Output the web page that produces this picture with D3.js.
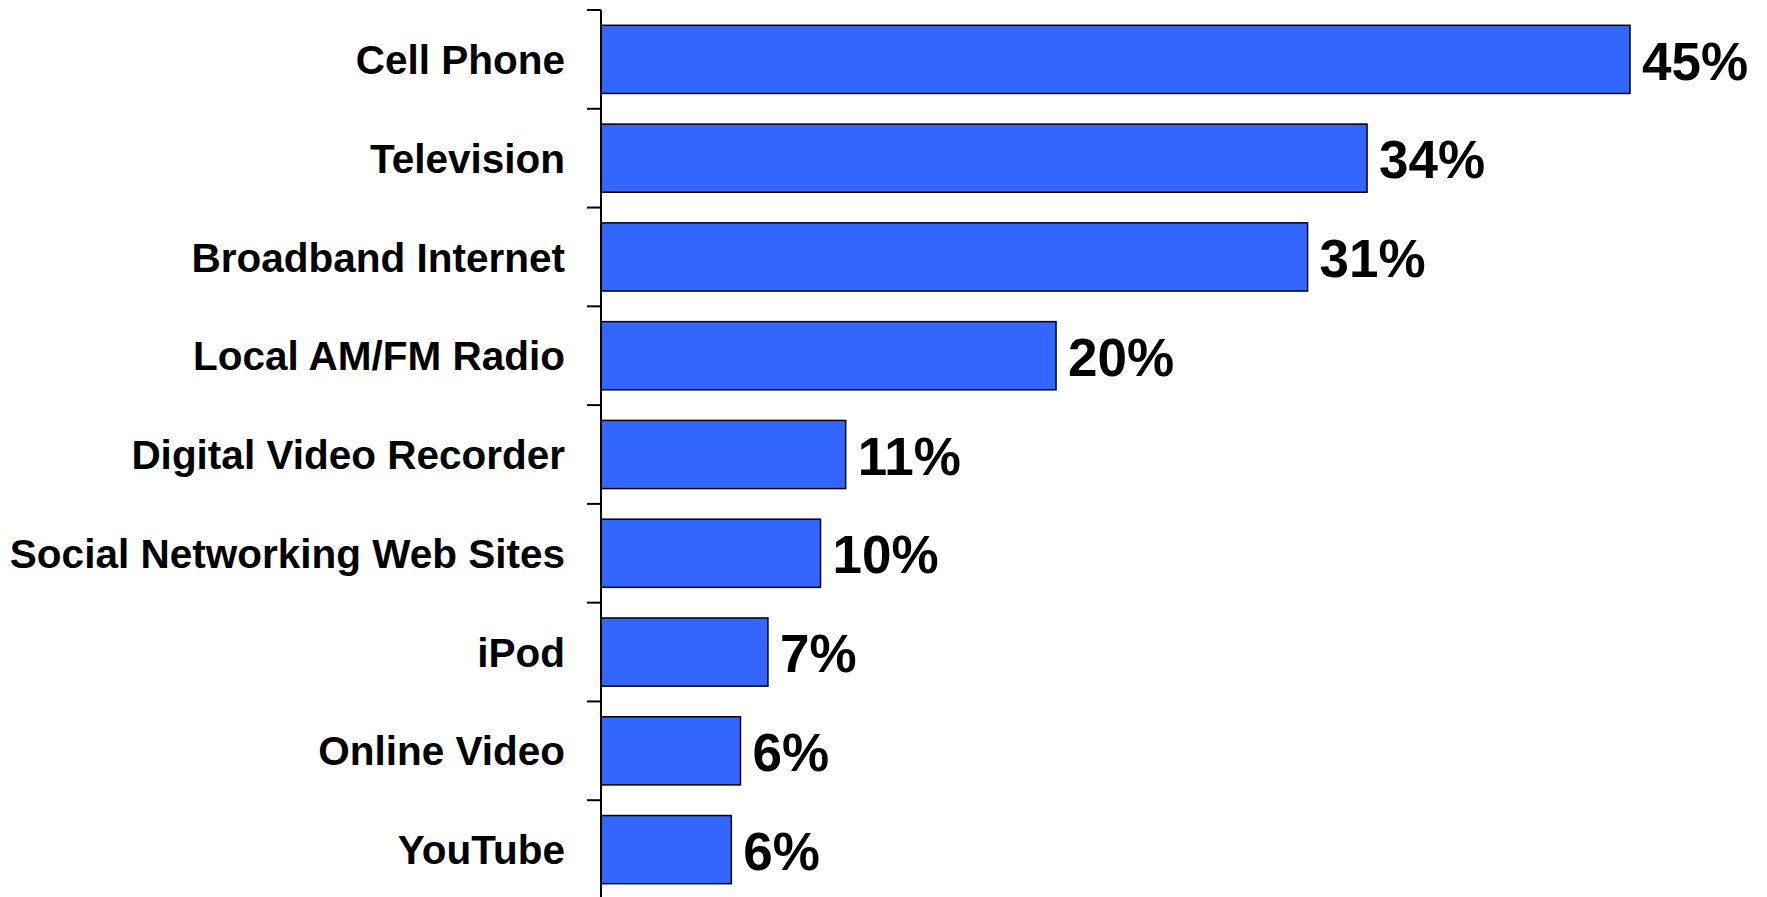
<!DOCTYPE html>
<html>
<head>
<meta charset="utf-8">
<script src="https://cdn.jsdelivr.net/npm/d3@7"></script>
<style>
    body { margin: 0; background: #fff; }
    .cat { font-family: "Liberation Sans", Arial, sans-serif; font-weight: bold; font-size: 40.5px; fill: #000; }
    .val { font-family: "Liberation Sans", Arial, sans-serif; font-weight: bold; font-size: 53px; fill: #000; }
</style>
</head>
<body>
<div class="barchart"></div>
<script>
// categories and values
const categories = ["Cell Phone", "Television", "Broadband Internet", "Local AM/FM Radio",
    "Digital Video Recorder", "Social Networking Web Sites", "iPod", "Online Video", "YouTube"];
const values = [45, 33.5, 30.9, 19.9, 10.7, 9.6, 7.3, 6.1, 5.7];
const labels = ["45%", "34%", "31%", "20%", "11%", "10%", "7%", "6%", "6%"];

const data = categories.map((c, i) => ({ name: c, value: values[i], label: labels[i] }));

BarChart(".barchart");

function BarChart(container) {

    const margin = ({top: 10, right: 137, bottom: 0, left: 601})

    const width = 1767 - margin.left - margin.right,
    height = 889;

    const svg = d3.select(container)
        .append("svg")
        .attr("width", 1767)
        .attr("height", 897)
        .append("g")
        .attr("transform", "translate(" + margin.left + "," + margin.top + ")");

    // scales
    const xScale = d3.scaleLinear()
        .domain([0, 45])
        .range([0, width])

    const yScale = d3.scaleBand()
        .domain(categories)
        .range([0, height])
        .padding(0)

    const step = yScale.step();
    const barPad = step * 0.155;
    const barH = step * 0.69;

    // bars
    svg.selectAll("rect.bar")
        .data(data)
        .enter()
        .append("rect")
        .attr("class", "bar")
        .attr("x", 0)
        .attr("y", d => yScale(d.name) + barPad)
        .attr("width", d => xScale(d.value))
        .attr("height", barH)
        .attr("fill", "#3366ff")
        .attr("stroke", "#000")
        .attr("stroke-width", 1.5);

    // value labels
    svg.selectAll("text.val")
        .data(data)
        .enter()
        .append("text")
        .attr("class", "val")
        .attr("x", d => xScale(d.value) + 12)
        .attr("y", d => yScale(d.name) + step / 2)
        .attr("dy", "0.38em")
        .text(d => d.label);

    // category labels
    svg.selectAll("text.cat")
        .data(data)
        .enter()
        .append("text")
        .attr("class", "cat")
        .attr("x", -36)
        .attr("y", d => yScale(d.name) + step / 2)
        .attr("dy", "0.36em")
        .attr("text-anchor", "end")
        .text(d => d.name);

    // axis line with ticks at band boundaries
    const tickYs = categories.map(c => yScale(c)).concat([height]);

    svg.append("line")
        .attr("x1", 0).attr("x2", 0)
        .attr("y1", 0).attr("y2", 897)
        .attr("stroke", "#000")
        .attr("stroke-width", 2);

    svg.selectAll("line.tick")
        .data(tickYs)
        .enter()
        .append("line")
        .attr("class", "tick")
        .attr("x1", -14).attr("x2", 0)
        .attr("y1", d => d).attr("y2", d => d)
        .attr("stroke", "#000")
        .attr("stroke-width", 2);
}
</script>
</body>
</html>
